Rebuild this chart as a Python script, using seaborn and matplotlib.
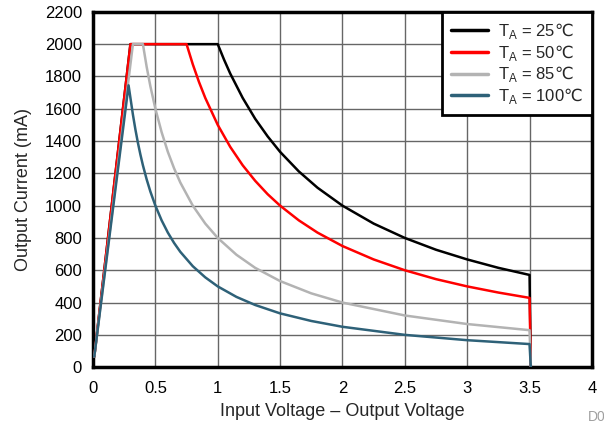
import numpy as np
import pandas as pd
import seaborn as sns
import matplotlib.pyplot as plt

# values
x_25 = [0.01, 0.30, 1.00, 1.05, 1.10, 1.20, 1.30, 1.40, 1.50, 1.65, 1.80, 2.00, 2.25, 2.50, 2.75, 3.00, 3.25, 3.50, 3.51]
y_25 = [65, 2000, 2000, 1905, 1818, 1667, 1538, 1429, 1333, 1212, 1111, 1000, 889, 800, 727, 667, 615, 571, 0]

x_50 = [0.01, 0.30, 0.75, 0.80, 0.85, 0.90, 1.00, 1.10, 1.20, 1.30, 1.40, 1.50, 1.65, 1.80, 2.00, 2.25, 2.50, 2.75, 3.00, 3.25, 3.50, 3.51]
y_50 = [65, 2000, 2000, 1875, 1765, 1667, 1500, 1364, 1250, 1154, 1071, 1000, 909, 833, 750, 667, 600, 545, 500, 462, 429, 0]

x_85 = [0.01, 0.32, 0.40, 0.43, 0.46, 0.50, 0.55, 0.60, 0.65, 0.70, 0.80, 0.90, 1.00, 1.15, 1.30, 1.50, 1.75, 2.00, 2.50, 3.00, 3.50, 3.51]
y_85 = [65, 2000, 2000, 1860, 1739, 1600, 1455, 1333, 1231, 1143, 1000, 889, 800, 696, 615, 533, 457, 400, 320, 267, 229, 0]

x_100 = [0.01, 0.285, 0.30, 0.32, 0.34, 0.36, 0.38, 0.40, 0.43, 0.46, 0.50, 0.55, 0.60, 0.65, 0.70, 0.80, 0.90, 1.00, 1.15, 1.30, 1.50, 1.75, 2.00, 2.50, 3.00, 3.50, 3.51]
y_100 = [65, 1745, 1667, 1563, 1471, 1389, 1316, 1250, 1163, 1087, 1000, 909, 833, 769, 714, 625, 556, 500, 435, 385, 333, 286, 250, 200, 167, 143, 0]

labels = ['T$_\\mathregular{A}$ = 25$\\mathsf{℃}$', 'T$_\\mathregular{A}$ = 50$\\mathsf{℃}$',
          'T$_\\mathregular{A}$ = 85$\\mathsf{℃}$', 'T$_\\mathregular{A}$ = 100$\\mathsf{℃}$']
colors = ['#000000', '#ff0000', '#b3b3b3', '#2e6178']

df = pd.concat([
    pd.DataFrame({'x': x_25, 'y': y_25, 'series': labels[0]}),
    pd.DataFrame({'x': x_50, 'y': y_50, 'series': labels[1]}),
    pd.DataFrame({'x': x_85, 'y': y_85, 'series': labels[2]}),
    pd.DataFrame({'x': x_100, 'y': y_100, 'series': labels[3]}),
])

sns.set_style('white')
plt.rcParams['font.family'] = ['Liberation Sans', 'DejaVu Sans']
plt.rcParams['mathtext.fontset'] = 'custom'
plt.rcParams['mathtext.rm'] = 'Liberation Sans'
plt.rcParams['mathtext.sf'] = 'DejaVu Sans'

fig = plt.figure(figsize=(6.04, 4.23), dpi=100)
ax = fig.add_axes([0.154, 0.132, 0.826, 0.840])

sns.lineplot(data=df, x='x', y='y', hue='series', palette=dict(zip(labels, colors)),
             sort=False, estimator=None, linewidth=1.8, ax=ax, zorder=3)

ax.set_xlim(0, 4)
ax.set_ylim(0, 2200)
ax.set_xticks(np.arange(0, 4.01, 0.5))
ax.set_xticklabels(['0', '0.5', '1', '1.5', '2', '2.5', '3', '3.5', '4'])
ax.set_yticks(np.arange(0, 2201, 200))
ax.grid(True, color='#666666', linewidth=1.0)
ax.tick_params(length=0, labelsize=12, colors='black')
ax.tick_params(axis='x', pad=10)
ax.tick_params(axis='y', pad=8)
for s in ax.spines.values():
    s.set_color('black')
    s.set_linewidth(2.5)

ax.set_xlabel('Input Voltage \u2013 Output Voltage', fontsize=13, labelpad=5)
ax.set_ylabel('Output Current (mA)', fontsize=13, labelpad=9)

leg = ax.legend(loc='upper right', fontsize=12, frameon=True, fancybox=False,
                borderaxespad=0.0, handlelength=2.2, handletextpad=0.6,
                labelspacing=0.1, borderpad=0.55)
leg.get_frame().set_edgecolor('black')
leg.get_frame().set_linewidth(2.0)
leg.get_frame().set_alpha(1)
for h in leg.get_lines():
    h.set_linewidth(2.5)

fig.text(0.974, 0.004, 'D001', color='#a0a0a0', fontsize=10)

fig.savefig('out.png', dpi=100)
